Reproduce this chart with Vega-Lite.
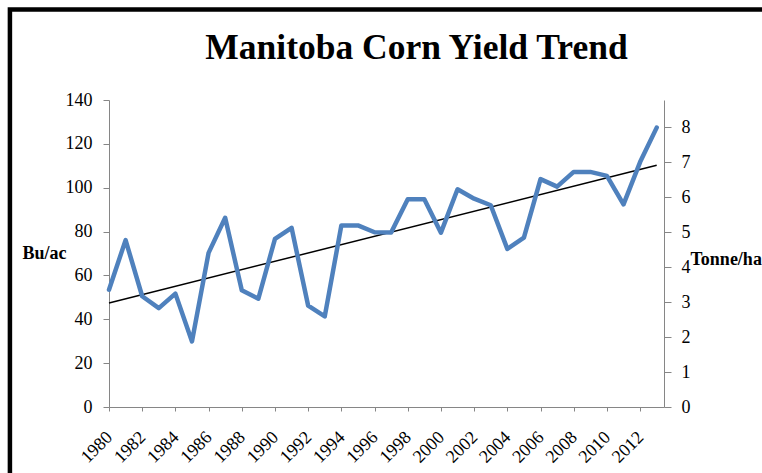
{
  "$schema": "https://vega.github.io/schema/vega-lite/v6.json",
  "width": 555,
  "height": 307,
  "autosize": {"type": "none"},
  "padding": {"left": 109, "top": 100, "right": 98, "bottom": 66},
  "background": "white",
  "config": {
    "view": {"stroke": null},
    "font": "Liberation Serif",
    "axis": {
      "labelFont": "Liberation Serif",
      "labelFontSize": 18,
      "labelColor": "black",
      "titleFont": "Liberation Serif",
      "titleFontSize": 18,
      "titleFontWeight": "bold",
      "titleColor": "black",
      "domainColor": "#868686",
      "tickColor": "#868686",
      "grid": false
    },
    "axisX": {"labelOverlap": false, "labelAngle": -45, "labelFlush": false}
  },
  "title": {
    "text": "Manitoba Corn Yield Trend",
    "font": "Liberation Serif",
    "fontSize": 35.5,
    "fontWeight": "bold",
    "color": "black",
    "anchor": "middle",
    "baseline": "alphabetic",
    "dx": 30,
    "offset": -87
  },
  "datasets": {
    "yield": [
      {"year": 1980, "bu": 53.5}, {"year": 1981, "bu": 76.1}, {"year": 1982, "bu": 50.5},
      {"year": 1983, "bu": 45.1}, {"year": 1984, "bu": 51.7}, {"year": 1985, "bu": 29.9},
      {"year": 1986, "bu": 70.3}, {"year": 1987, "bu": 86.3}, {"year": 1988, "bu": 53.2},
      {"year": 1989, "bu": 49.4}, {"year": 1990, "bu": 76.7}, {"year": 1991, "bu": 81.7},
      {"year": 1992, "bu": 46.2}, {"year": 1993, "bu": 41.3}, {"year": 1994, "bu": 82.8},
      {"year": 1995, "bu": 82.8}, {"year": 1996, "bu": 79.7}, {"year": 1997, "bu": 79.6},
      {"year": 1998, "bu": 94.7}, {"year": 1999, "bu": 94.7}, {"year": 2000, "bu": 79.5},
      {"year": 2001, "bu": 99.3}, {"year": 2002, "bu": 95.0}, {"year": 2003, "bu": 92.0},
      {"year": 2004, "bu": 72.1}, {"year": 2005, "bu": 77.2}, {"year": 2006, "bu": 103.9},
      {"year": 2007, "bu": 100.5}, {"year": 2008, "bu": 107.2}, {"year": 2009, "bu": 107.2},
      {"year": 2010, "bu": 105.4}, {"year": 2011, "bu": 92.4}, {"year": 2012, "bu": 111.7},
      {"year": 2013, "bu": 127.4}
    ],
    "trend": [
      {"year": 1980, "bu": 47.4},
      {"year": 2013, "bu": 110.2}
    ]
  },
  "layer": [
    {
      "layer": [
        {
          "data": {"values": [{}]},
          "mark": {"type": "rect", "fillOpacity": 0, "stroke": "black", "strokeWidth": 4.5, "clip": false},
          "encoding": {
            "x": {
              "datum": 1974.03, "type": "quantitative", "scale": {"domain": [1980, 2013.44], "nice": false, "zero": false},
              "axis": {
                "title": null, "values": [1980,1982,1984,1986,1988,1990,1992,1994,1996,1998,2000,2002,2004,2006,2008,2010,2012],
                "format": "d", "labelAngle": -45, "tickSize": 4, "labelPadding": 17, "labelOffset": -6, "labelOverlap": false
              }
            },
            "x2": {"datum": 2040},
            "y": {"datum": 181.3, "type": "quantitative", "scale": {"domain": [0, 140], "nice": false}},
            "y2": {"datum": -60}
          }
        },
        {
          "data": {"name": "trend"},
          "mark": {"type": "line", "color": "black", "strokeWidth": 1.5},
          "encoding": {
            "x": {
              "field": "year", "type": "quantitative",
              "axis": {
                "title": null, "values": [1980,1982,1984,1986,1988,1990,1992,1994,1996,1998,2000,2002,2004,2006,2008,2010,2012],
                "format": "d", "labelAngle": -45, "tickSize": 4, "labelPadding": 17, "labelOffset": -6, "labelOverlap": false
              }
            },
            "y": {"field": "bu", "type": "quantitative"}
          }
        },
        {
          "data": {"name": "yield"},
          "mark": {"type": "line", "color": "#4F81BD", "strokeWidth": 4.5, "strokeJoin": "round", "strokeCap": "round"},
          "encoding": {
            "x": {
              "field": "year", "type": "quantitative",
              "axis": {
                "title": null, "values": [1980,1982,1984,1986,1988,1990,1992,1994,1996,1998,2000,2002,2004,2006,2008,2010,2012],
                "format": "d", "labelAngle": -45, "tickSize": 4, "labelPadding": 17, "labelOffset": -6, "labelOverlap": false
              }
            },
            "y": {
              "field": "bu", "type": "quantitative",
              "axis": {
                "title": "Bu/ac", "values": [0,20,40,60,80,100,120,140], "tickSize": 6, "labelPadding": 11,
                "titleAngle": 0, "titleAlign": "left", "titleBaseline": "middle", "titleX": -87, "titleY": 153
              }
            }
          }
        }
      ]
    },
    {
      "data": {"values": [{}]},
      "mark": {"type": "rule", "strokeOpacity": 0},
      "encoding": {
        "x": {
          "datum": 1980, "type": "quantitative",
          "axis": {
            "title": null, "values": [1980,1982,1984,1986,1988,1990,1992,1994,1996,1998,2000,2002,2004,2006,2008,2010,2012],
            "format": "d", "labelAngle": -45, "tickSize": 4, "labelPadding": 17, "labelOffset": -6, "labelOverlap": false
          }
        },
        "y": {
          "datum": 0, "type": "quantitative",
          "scale": {"domain": [0, 8.78], "nice": false},
          "axis": {
            "orient": "right", "title": "Tonne/ha", "values": [0,1,2,3,4,5,6,7,8], "tickSize": 7, "labelPadding": 10,
            "titleAngle": 0, "titleAlign": "left", "titleBaseline": "middle", "titleX": 26, "titleY": 159
          }
        },
        "y2": {"datum": 8}
      }
    }
  ],
  "resolve": {"scale": {"y": "independent"}}
}
